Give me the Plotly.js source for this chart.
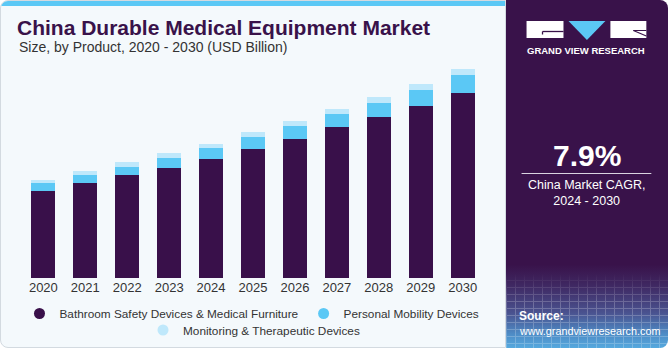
<!DOCTYPE html>
<html>
<head>
<meta charset="utf-8">
<script src="https://cdn.plot.ly/plotly-3.0.1.min.js"></script>
<style>
  html, body { margin:0; padding:0; background:#ffffff; }
  #wrap { position:relative; width:670px; height:350px; overflow:hidden; font-family:"Liberation Sans", Arial, sans-serif; }
  #leftbg { position:absolute; left:0; top:0; width:506px; height:348px; box-sizing:border-box; background:#f4f9fc; border:1px solid #d3dae0; border-radius:8px 0 0 8px; overflow:hidden; }
  #stripe { position:absolute; left:0; top:0; width:100%; height:5px; background:#5bc8f5; }
  #panel { position:absolute; left:506px; top:0; width:162px; height:348px; border-radius:0 8px 8px 0; overflow:hidden;
    background:linear-gradient(to bottom, #39124a 0%, #39124a 76%, #3f2862 82%, #4a5390 90%, #4e8cc6 96%, #55a9de 100%); }
  #grid { position:absolute; left:0; bottom:0; width:100%; height:75px; opacity:0.22;
    background-image:repeating-linear-gradient(to right, #ffffff 0px, #ffffff 1px, transparent 1px, transparent 9px),
                     repeating-linear-gradient(to bottom, #ffffff 0px, #ffffff 1px, transparent 1px, transparent 7px);
    -webkit-mask-image:linear-gradient(to bottom, transparent 0%, #000 40%); mask-image:linear-gradient(to bottom, transparent 0%, #000 40%); }
  #chart { position:absolute; left:0; top:0; width:670px; height:350px; }
</style>
</head>
<body>
<div id="wrap">
  <div id="leftbg"><div id="stripe"></div></div>
  <div id="panel"><div id="grid"></div></div>
  <div id="chart"></div>
</div>
<script>
// ---- data ----
var years = ['2020','2021','2022','2023','2024','2025','2026','2027','2028','2029','2030'];
var bathroomSafety = [7.29, 7.96, 8.61, 9.25, 9.97, 10.81, 11.65, 12.62, 13.50, 14.44, 15.53];
var personalMobility = [0.65, 0.70, 0.70, 0.81, 0.92, 1.01, 1.06, 1.09, 1.20, 1.34, 1.51];
var monitoringTherapeutic = [0.28, 0.31, 0.39, 0.39, 0.36, 0.42, 0.42, 0.45, 0.48, 0.48, 0.48];
var seriesNames = ['Bathroom Safety Devices & Medical Furniture', 'Personal Mobility Devices', 'Monitoring & Therapeutic Devices'];
var labelYear = '2022';
var labelText = '$9.7B';
var cagrText = '7.9%';
var cagrLabel = 'China Market CAGR,<br>2024 - 2030';

// ---- layout geometry ----
var W = 670, H = 350;
var M = {l: 13.6, r: 177.6, t: 60, b: 72};
var PW = W - M.l - M.r, PH = H - M.t - M.b;
function px(x) { return (x - M.l) / PW; }
function py(y) { return (H - M.b - y) / PH; }

var colors = ['#39104a', '#5bc8f5', '#bfe8fb'];
var font = 'Liberation Sans, Arial, sans-serif';

var totals = years.map(function(_, i){ return bathroomSafety[i] + personalMobility[i] + monitoringTherapeutic[i]; });
var labelIdx = years.indexOf(labelYear);

var values = [bathroomSafety, personalMobility, monitoringTherapeutic];
var legendRefs = ['legend', 'legend', 'legend2'];
var data = [];
values.forEach(function(v, k){
  data.push({type:'bar', x: years, y: v, name: seriesNames[k], marker:{color: colors[k], line:{width:0}}, showlegend:false, hoverinfo:'skip'});
});
values.forEach(function(v, k){
  data.push({type:'scatter', mode:'markers', x:[null], y:[null], name: seriesNames[k], legend: legendRefs[k],
             marker:{color: colors[k], size:11, symbol:'circle'}, showlegend:true, hoverinfo:'skip'});
});

var shapes = [
  // logo blocks
  {type:'rect', xref:'paper', yref:'paper', x0:px(527), x1:px(564), y0:py(38), y1:py(21), fillcolor:'#ffffff', line:{width:0}},
  {type:'path', xref:'paper', yref:'paper', path:'M'+px(569)+','+py(21)+' L'+px(606)+','+py(21)+' L'+px(587.5)+','+py(40)+' Z', fillcolor:'#5bc8f5', line:{width:0}},
  {type:'rect', xref:'paper', yref:'paper', x0:px(611), x1:px(647), y0:py(38), y1:py(21), fillcolor:'#ffffff', line:{width:0}},
  {type:'line', xref:'paper', yref:'paper', x0:px(543), x1:px(564), y0:py(31.5), y1:py(31.5), line:{color:'#39124a', width:1.3}},
  {type:'line', xref:'paper', yref:'paper', x0:px(543), x1:px(543), y0:py(31.5), y1:py(34.5), line:{color:'#39124a', width:1.3}},
  {type:'line', xref:'paper', yref:'paper', x0:px(634), x1:px(647), y0:py(30.5), y1:py(36), line:{color:'#39124a', width:1.2}},
  {type:'line', xref:'paper', yref:'paper', x0:px(634), x1:px(647), y0:py(30.5), y1:py(30.5), line:{color:'#39124a', width:1}},
  // divider under CAGR
  {type:'line', xref:'paper', yref:'paper', x0:px(522), x1:px(652), y0:py(173.5), y1:py(173.5), line:{color:'#d9d3e0', width:1}}
];

var annotations = [
  {xref:'paper', yref:'paper', x:px(17), y:py(47.5), xanchor:'left', yanchor:'middle', showarrow:false,
   text:'Size, by Product, 2020 - 2030 (USD Billion)', font:{family:font, size:14, color:'#333333'}},
  {xref:'x', yref:'y', x: years[labelIdx], y: totals[labelIdx], yanchor:'middle', yshift:16, showarrow:false,
   text: labelText, font:{family:font, size:14, color:'#333333'}},
  {xref:'paper', yref:'paper', x:px(587), y:py(51), xanchor:'center', yanchor:'middle', showarrow:false,
   text:'<b>GRAND VIEW RESEARCH</b>', font:{family:font, size:9.5, color:'#ffffff'}},
  {xref:'paper', yref:'paper', x:px(587.5), y:py(155), xanchor:'center', yanchor:'middle', showarrow:false,
   text:'<b>'+cagrText+'</b>', font:{family:font, size:30, color:'#ffffff'}},
  {xref:'paper', yref:'paper', x:px(587.5), y:py(193), xanchor:'center', yanchor:'middle', showarrow:false,
   text: cagrLabel, font:{family:font, size:12.5, color:'#ffffff'}},
  {xref:'paper', yref:'paper', x:px(517), y:py(316), xanchor:'left', yanchor:'middle', showarrow:false,
   text:'<b>Source:</b>', font:{family:font, size:12, color:'#ffffff'}},
  {xref:'paper', yref:'paper', x:px(517), y:py(330.5), xanchor:'left', yanchor:'middle', showarrow:false,
   text:'www.grandviewresearch.com', font:{family:font, size:10.8, color:'#ffffff'}}
];

var legendBase = {orientation:'h', xanchor:'center', yanchor:'top', yref:'container', traceorder:'normal',
  font:{family:font, size:11.8, color:'#333333'}, bgcolor:'rgba(0,0,0,0)', itemclick:false, itemdoubleclick:false};

var layout = {
  width: W, height: H,
  margin: M,
  paper_bgcolor:'rgba(0,0,0,0)', plot_bgcolor:'rgba(0,0,0,0)',
  barmode:'stack', bargap:0.43,
  title:{text:'<b>China Durable Medical Equipment Market</b>', font:{family:font, size:21, color:'#39124a'},
         x:17/W, xanchor:'left', xref:'container', y:1-28/H, yanchor:'middle', yref:'container'},
  xaxis:{type:'category', range:[-0.7, 10.7], showgrid:false, zeroline:false, showline:false, ticks:'',
         tickfont:{family:font, size:13, color:'#333333'}, fixedrange:true, automargin:false},
  yaxis:{range:[0, PH/11.93], showgrid:false, zeroline:false, showline:false, showticklabels:false, ticks:'', fixedrange:true, automargin:false},
  showlegend:true,
  legend: Object.assign({}, legendBase, {x:px(252), y:1-299/H}),
  legend2: Object.assign({}, legendBase, {x:px(254), y:1-315.5/H}),
  shapes: shapes,
  annotations: annotations
};

Plotly.newPlot('chart', data, layout, {displayModeBar:false, staticPlot:true});
</script>
</body>
</html>
